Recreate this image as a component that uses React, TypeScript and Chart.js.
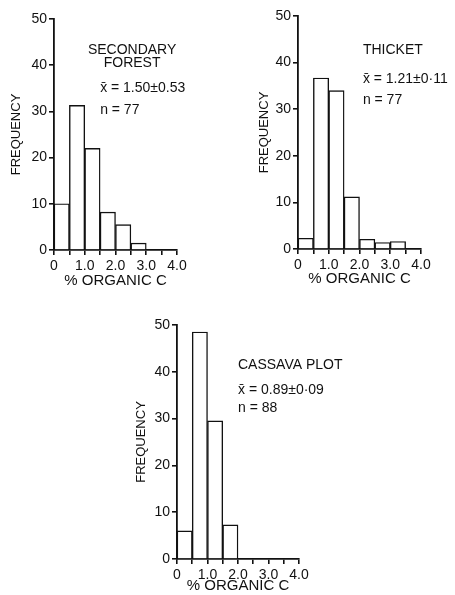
import React, { useEffect, useRef } from 'react';
import { Chart, registerables } from 'chart.js';

Chart.register(...registerables);

// Bin lower edges (% organic C), bin width 0.5
const binStarts = [0, 0.5, 1.0, 1.5, 2.0, 2.5, 3.0, 3.5];
const binWidth = 0.5;

// Frequencies per bin (null = empty bin)
const secondaryForest = [10, 31.3, 22, 8.2, 5.5, 1.5, null, null];
const thicket = [2.3, 36.7, 34, 11.2, 2.1, 1.4, 1.6, null];
const cassavaPlot = [6, 48.5, 29.5, 7.3, null, null, null, null];

// Axis ranges and tick labels
const xMin = 0;
const xMax = 4;
const xStep = 0.5;
const xLabelled = [0, 1, 2, 3, 4];
const xLabels = ['0', '1.0', '2.0', '3.0', '4.0'];
const yMin = 0;
const yMax = 50;
const yStep = 10;

const yTitle = 'FREQUENCY';
const xTitle = '% ORGANIC C';

// Panel annotations
const forestNotes = ['SECONDARY', 'FOREST', 'x\u0304 = 1.50\u00b10.53', 'n = 77'];
const thicketNotes = ['THICKET', 'x\u0304 = 1.21\u00b10\u00b711', 'n = 77'];
const cassavaNotes = ['CASSAVA PLOT', 'x\u0304 = 0.89\u00b10\u00b709', 'n = 88'];

const FONT = '"Liberation Sans", Arial, Helvetica, sans-serif';

type Note = { text: string; x: number; y: number; align: CanvasTextAlign };

type PanelProps = {
  values: (number | null)[];
  notes: Note[];
  box: { left: number; top: number; width: number; height: number };
  pad: { top: number; right: number };
  yWidth: number;
  xHeight: number;
  yTitlePad: number;
  xTitlePad: number;
};

const notesPlugin = {
  id: 'panelNotes',
  afterDraw(chart: any) {
    const notes: Note[] = chart.options.plugins.panelNotes?.notes || [];
    const ctx = chart.ctx;
    const xs = chart.scales.x;
    const ys = chart.scales.y;
    ctx.save();
    ctx.fillStyle = '#111';
    ctx.font = `14px ${FONT}`;
    ctx.textBaseline = 'middle';
    for (const n of notes) {
      ctx.textAlign = n.align;
      ctx.fillText(n.text, xs.getPixelForValue(n.x), ys.getPixelForValue(n.y));
    }
    ctx.restore();
  },
};

function Panel(props: PanelProps) {
  const ref = useRef<HTMLCanvasElement>(null);
  useEffect(() => {
    if (!ref.current) return;
    const data = binStarts.map((b, i) => ({ x: b + binWidth / 2, y: props.values[i] }));
    const axisLine = { display: true, color: '#111', width: 1.8 };
    const grid = {
      display: true,
      drawOnChartArea: false,
      drawTicks: true,
      tickLength: 5,
      color: '#111',
      lineWidth: 1.6,
      offset: false,
    };
    const chart = new Chart(ref.current, {
      type: 'bar',
      data: {
        datasets: [
          {
            data: data as any,
            backgroundColor: '#ffffff',
            borderColor: '#111',
            borderWidth: 1.4,
            borderSkipped: 'start',
            barPercentage: 1,
            categoryPercentage: 1,
          },
        ],
      },
      options: {
        animation: false,
        responsive: false,
        maintainAspectRatio: false,
        layout: { padding: { top: props.pad.top, right: props.pad.right, left: 0, bottom: 0 } },
        plugins: {
          legend: { display: false },
          tooltip: { enabled: false },
          panelNotes: { notes: props.notes },
        } as any,
        scales: {
          x: {
            type: 'linear',
            min: xMin,
            max: xMax,
            offset: false,
            grid,
            border: axisLine,
            afterBuildTicks: (scale: any) => {
              const t = [];
              for (let v = xMin; v <= xMax + 1e-9; v += xStep) t.push({ value: Math.round(v * 10) / 10 });
              scale.ticks = t;
            },
            ticks: {
              autoSkip: false,
              maxRotation: 0,
              padding: 3,
              color: '#111',
              font: { family: FONT, size: 14 },
              callback: (v: any) => {
                const i = xLabelled.indexOf(Number(v));
                return i >= 0 ? xLabels[i] : '';
              },
            },
            title: {
              display: true,
              text: xTitle,
              color: '#111',
              font: { family: FONT, size: 15 },
              padding: { top: 0, bottom: props.xTitlePad },
            },
            afterFit: (scale: any) => {
              scale.height = props.xHeight;
            },
          },
          y: {
            type: 'linear',
            min: yMin,
            max: yMax,
            grid,
            border: axisLine,
            ticks: {
              stepSize: yStep,
              padding: 2,
              color: '#111',
              font: { family: FONT, size: 14 },
            },
            title: {
              display: true,
              text: yTitle,
              color: '#111',
              font: { family: FONT, size: 13 },
              padding: { top: props.yTitlePad, bottom: 0 },
            },
            afterFit: (scale: any) => {
              scale.width = props.yWidth;
            },
          },
        },
      },
      plugins: [notesPlugin],
    });
    return () => chart.destroy();
  }, []);
  const b = props.box;
  return (
    <div style={{ position: 'absolute', left: b.left, top: b.top, width: b.width, height: b.height }}>
      <canvas ref={ref} width={b.width} height={b.height} style={{ width: b.width, height: b.height, display: 'block' }} />
    </div>
  );
}

export default function App() {
  return (
    <div style={{ position: 'absolute', left: 0, top: 0, width: 455, height: 595, background: '#fff', overflow: 'hidden' }}>
      <Panel
        values={secondaryForest}
        notes={[
          { text: forestNotes[0], x: 2.54, y: 43.3, align: 'center' },
          { text: forestNotes[1], x: 2.54, y: 40.5, align: 'center' },
          { text: forestNotes[2], x: 1.5, y: 35.1, align: 'left' },
          { text: forestNotes[3], x: 1.5, y: 30.3, align: 'left' },
        ]}
        box={{ left: 0, top: 0, width: 200, height: 295 }}
        pad={{ top: 19, right: 23 }}
        yWidth={54}
        xHeight={45}
        yTitlePad={9}
        xTitlePad={5}
      />
      <Panel
        values={thicket}
        notes={[
          { text: thicketNotes[0], x: 2.11, y: 42.7, align: 'left' },
          { text: thicketNotes[1], x: 2.11, y: 36.5, align: 'left' },
          { text: thicketNotes[2], x: 2.11, y: 32, align: 'left' },
        ]}
        box={{ left: 240, top: 0, width: 215, height: 295 }}
        pad={{ top: 16, right: 34 }}
        yWidth={58}
        xHeight={46}
        yTitlePad={17}
        xTitlePad={7}
      />
      <Panel
        values={cassavaPlot}
        notes={[
          { text: cassavaNotes[0], x: 2.0, y: 41.5, align: 'left' },
          { text: cassavaNotes[1], x: 2.0, y: 36.1, align: 'left' },
          { text: cassavaNotes[2], x: 2.0, y: 32.3, align: 'left' },
        ]}
        box={{ left: 120, top: 300, width: 335, height: 295 }}
        pad={{ top: 25, right: 156 }}
        yWidth={57}
        xHeight={36}
        yTitlePad={14}
        xTitlePad={0}
      />
    </div>
  );
}
